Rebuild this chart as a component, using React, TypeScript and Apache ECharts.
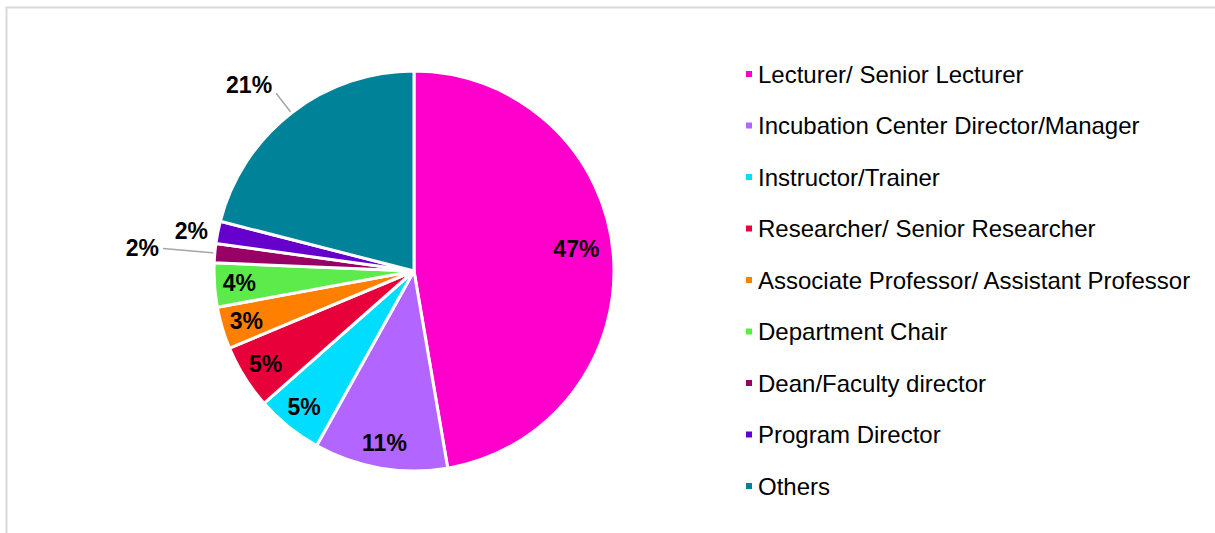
import React, { useEffect, useRef } from "react";
import * as echarts from "echarts";

const categories: string[] = [
  "Lecturer/ Senior Lecturer",
  "Incubation Center Director/Manager",
  "Instructor/Trainer",
  "Researcher/ Senior Researcher",
  "Associate Professor/ Assistant Professor",
  "Department Chair",
  "Dean/Faculty director",
  "Program Director",
  "Others",
];
const values: number[] = [47.3, 10.8, 5.4, 5.2, 3.4, 3.55, 1.55, 1.8, 21.0];
const colors: string[] = [
  "#FF00CC",
  "#B266FF",
  "#00DDFF",
  "#E8003A",
  "#FF8000",
  "#5CEB4B",
  "#990066",
  "#6600CC",
  "#008399",
];
// which slices carry their percentage outside the pie
const outsideLabel: boolean[] = [false, false, false, false, false, false, true, true, true];
const outsideLineLength: number[] = [0, 0, 0, 0, 0, 0, 52, 6, 25];
const outsideLineShown: boolean[] = [false, false, false, false, false, false, true, false, true];
const outsideShiftY: number[] = [0, 0, 0, 0, 0, 0, 0, 0, -8];

const FONT = "'Liberation Sans', Arial, sans-serif";

export default function App() {
  const ref = useRef<HTMLDivElement>(null);
  useEffect(() => {
    if (!ref.current) return;
    const chart = echarts.init(ref.current, undefined, { renderer: "svg" });
    const labelStyle = {
      fontFamily: FONT,
      fontSize: 23,
      fontWeight: "bold" as const,
      color: "#000000",
    };
    const mainData = categories.map((name, i) => ({
      name,
      value: values[i],
      itemStyle: { color: colors[i] },
      label: outsideLabel[i]
        ? {
            show: true,
            position: "outside",
            padding: [0, 0, i === 6 ? 12 : 2, 0],
            offset: [0, outsideShiftY[i]],
          }
        : { show: false },
      labelLine: {
        show: outsideLineShown[i],
        length: outsideLineLength[i],
        length2: 0,
        lineStyle: { color: "#A6A6A6", width: 1.5 },
      },
    }));
    const overlayData = categories.map((name, i) => ({
      name,
      value: values[i],
      label: i === 0 ? { show: true, offset: [-12, -7] } : { show: !outsideLabel[i] },
    }));
    chart.setOption({
      animation: false,
      backgroundColor: "#ffffff",
      graphic: [
        {
          type: "rect",
          shape: { x: 6.5, y: 7.5, width: 1240, height: 560 },
          style: { fill: "none", stroke: "#D9D9D9", lineWidth: 2 },
          silent: true,
        },
      ],
      legend: {
        orient: "vertical",
        left: 744,
        top: 62,
        padding: 0,
        itemWidth: 8,
        itemHeight: 8,
        itemGap: 27.5,
        icon: "rect",
        data: categories,
        selectedMode: false,
        textStyle: {
          fontFamily: FONT,
          fontSize: 24,
          lineHeight: 24,
          color: "#000000",
        },
      },
      series: [
        {
          type: "pie",
          center: [414, 271],
          radius: 200,
          startAngle: 90,
          clockwise: true,
          percentPrecision: 0,
          avoidLabelOverlap: false,
          silent: true,
          itemStyle: { borderColor: "#ffffff", borderWidth: 3 },
          label: { ...labelStyle, formatter: "{d}%", distanceToLabelLine: 4 },
          data: mainData,
        },
        {
          type: "pie",
          center: [414, 271],
          radius: [144, 200],
          startAngle: 90,
          clockwise: true,
          percentPrecision: 0,
          avoidLabelOverlap: false,
          silent: true,
          legendHoverLink: false,
          itemStyle: { color: "rgba(0,0,0,0)", borderWidth: 0 },
          label: { ...labelStyle, position: "inside", formatter: "{d}%" },
          labelLine: { show: false },
          data: overlayData,
        },
      ],
    });
    return () => chart.dispose();
  }, []);
  return (
    <div
      ref={ref}
      style={{ position: "fixed", left: 0, top: 0, width: 1215, height: 533 }}
    />
  );
}
